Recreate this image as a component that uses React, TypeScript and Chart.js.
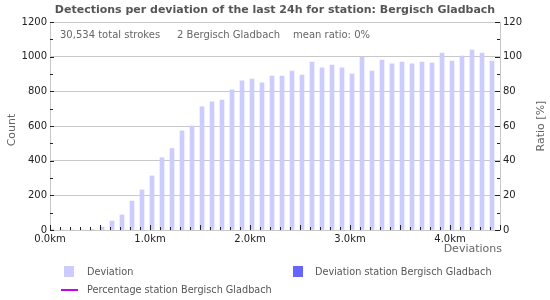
import React, { useEffect, useRef } from "react";
import { Chart, registerables } from "chart.js";

Chart.register(...registerables);

// ---- data ----
const titleText = "Detections per deviation of the last 24h for station: Bergisch Gladbach";
const stationName = "Bergisch Gladbach";
const totalStrokesLabel = "30,534";
const stationStrokes = 2;
const meanRatio = 0;

const deviationsKm = [
  0.0, 0.1, 0.2, 0.3, 0.4, 0.5, 0.6, 0.7, 0.8, 0.9,
  1.0, 1.1, 1.2, 1.3, 1.4, 1.5, 1.6, 1.7, 1.8, 1.9,
  2.0, 2.1, 2.2, 2.3, 2.4, 2.5, 2.6, 2.7, 2.8, 2.9,
  3.0, 3.1, 3.2, 3.3, 3.4, 3.5, 3.6, 3.7, 3.8, 3.9,
  4.0, 4.1, 4.2, 4.3, 4.4,
];
const deviationCounts = [
  5, 0, 0, 0, 4, 17, 52, 87, 167, 231,
  312, 417, 470, 572, 600, 711, 740, 750, 808, 860,
  871, 849, 888, 888, 917, 894, 969, 935, 952, 935,
  900, 996, 917, 981, 958, 969, 958, 969, 963, 1021,
  975, 1004, 1038, 1021, 975,
];
const stationCounts: number[] = [];
const stationPercentages: number[] = [];

const xTickValues = [0, 1, 2, 3, 4];
const xMin = 0;
const xMax = 4.5;
const countMax = 1200;
const countStep = 200;
const ratioMax = 120;
const ratioStep = 20;

const FONT = "DejaVu Sans";
const COLOR_DEV = "#ccccff";
const COLOR_STATION = "#6666ff";
const COLOR_PCT = "#cc00ee";
const GRID = "#c8c8c8";

const decorPlugin = {
  id: "decor",
  afterDraw(chart: any) {
    const ctx = chart.ctx as CanvasRenderingContext2D;
    const { left, right, bottom } = chart.chartArea;
    const xs = chart.scales.x;
    const ys = chart.scales.y;
    const yr = chart.scales.y1;
    ctx.save();

    // inner tick marks
    ctx.strokeStyle = "#222";
    ctx.lineWidth = 1;
    ctx.beginPath();
    for (let i = 0; i <= Math.round(xMax * 10); i++) {
      const px = Math.round(xs.getPixelForValue(i / 10)) + 0.5;
      const len = i % 5 === 0 ? 5 : 3;
      ctx.moveTo(px, bottom);
      ctx.lineTo(px, bottom - len);
    }
    for (let i = 0; i <= countMax / (countStep / 2); i++) {
      const py = Math.round(ys.getPixelForValue(i * countStep / 2)) + 0.5;
      const len = i % 2 === 0 ? 4 : 3;
      ctx.moveTo(left, py);
      ctx.lineTo(left + len, py);
    }
    for (let i = 0; i <= ratioMax / (ratioStep / 2); i++) {
      const py = Math.round(yr.getPixelForValue(i * ratioStep / 2)) + 0.5;
      const len = i % 2 === 0 ? 5 : 3;
      ctx.moveTo(right, py);
      ctx.lineTo(right - len, py);
    }
    ctx.stroke();

    // title
    ctx.fillStyle = "#555";
    ctx.font = `bold 11px "${FONT}"`;
    ctx.textAlign = "center";
    ctx.textBaseline = "middle";
    ctx.fillText(titleText, 275, 10);

    // info line
    ctx.fillStyle = "#666";
    ctx.font = `10px "${FONT}"`;
    ctx.textAlign = "left";
    ctx.fillText(`${totalStrokesLabel} total strokes`, 60, 35);
    ctx.fillText(`${stationStrokes} ${stationName}`, 177, 35);
    ctx.fillText(`mean ratio: ${meanRatio}%`, 293, 35);

    // axis titles
    ctx.font = `11px "${FONT}"`;
    ctx.fillStyle = "#666";
    ctx.textAlign = "right";
    ctx.fillText("Deviations", 502, 249);
    ctx.textAlign = "center";
    ctx.save();
    ctx.translate(12, 130);
    ctx.rotate(-Math.PI / 2);
    ctx.fillText("Count", 0, 0);
    ctx.restore();
    ctx.save();
    ctx.translate(541, 126);
    ctx.rotate(-Math.PI / 2);
    ctx.fillText("Ratio [%]", 0, 0);
    ctx.restore();

    // legend
    ctx.font = `9.7px "${FONT}"`;
    ctx.textAlign = "left";
    ctx.fillStyle = COLOR_DEV;
    ctx.fillRect(64, 266, 10, 11);
    ctx.fillStyle = COLOR_STATION;
    ctx.fillRect(293, 266, 10, 11);
    ctx.strokeStyle = COLOR_PCT;
    ctx.lineWidth = 2;
    ctx.beginPath();
    ctx.moveTo(61, 290);
    ctx.lineTo(78, 290);
    ctx.stroke();
    ctx.fillStyle = "#555";
    ctx.fillText("Deviation", 87, 272);
    ctx.fillText(`Deviation station ${stationName}`, 315, 272);
    ctx.fillText(`Percentage station ${stationName}`, 87, 290);

    ctx.restore();
  },
};

export default function App() {
  const ref = useRef<HTMLCanvasElement>(null);

  useEffect(() => {
    if (!ref.current) return;
    Chart.defaults.font.family = FONT;
    const chart = new Chart(ref.current, {
      type: "bar",
      data: {
        datasets: [
          {
            type: "bar",
            label: `Deviation station ${stationName}`,
            data: stationCounts.map((c, i) => ({ x: deviationsKm[i], y: c })),
            backgroundColor: COLOR_STATION,
            barThickness: 4,
            yAxisID: "y",
          },
          {
            type: "bar",
            label: "Deviation",
            data: deviationCounts.map((c, i) => ({ x: deviationsKm[i], y: c })),
            backgroundColor: COLOR_DEV,
            barThickness: 4,
            yAxisID: "y",
          },
          {
            type: "line",
            label: `Percentage station ${stationName}`,
            data: stationPercentages.map((p, i) => ({ x: deviationsKm[i], y: p })),
            borderColor: COLOR_PCT,
            borderWidth: 2,
            pointRadius: 0,
            yAxisID: "y1",
          },
        ],
      } as any,
      options: {
        responsive: false,
        animation: false,
        devicePixelRatio: 1,
        layout: { padding: { top: 22, left: 0, right: 0, bottom: 0 } },
        plugins: {
          legend: { display: false },
          title: { display: false },
          tooltip: { enabled: false },
        },
        scales: {
          x: {
            type: "linear",
            min: xMin,
            max: xMax,
            offset: false,
            grid: { display: false, offset: false, drawTicks: false },
            border: { display: true, color: GRID },
            afterBuildTicks: (axis: any) => {
              axis.ticks = xTickValues.map((v) => ({ value: v }));
            },
            afterFit: (axis: any) => {
              axis.height = 70;
            },
            ticks: {
              padding: 3,
              color: "#222",
              font: { size: 10, family: FONT },
              maxRotation: 0,
              autoSkip: false,
              callback: (v: any) => `${Number(v).toFixed(1)}km`,
            },
          },
          y: {
            type: "linear",
            position: "left",
            min: 0,
            max: countMax,
            grid: { color: GRID, drawTicks: false },
            border: { display: true, color: GRID },
            afterFit: (axis: any) => {
              axis.width = 50;
            },
            ticks: {
              stepSize: countStep,
              padding: 3,
              color: "#222",
              font: { size: 10, family: FONT },
              callback: (v: any) => String(v),
            },
          },
          y1: {
            type: "linear",
            position: "right",
            min: 0,
            max: ratioMax,
            grid: { drawOnChartArea: false, drawTicks: false },
            border: { display: true, color: GRID },
            afterFit: (axis: any) => {
              axis.width = 50;
            },
            ticks: {
              stepSize: ratioStep,
              padding: 3,
              color: "#222",
              font: { size: 10, family: FONT },
              callback: (v: any) => String(v),
            },
          },
        },
      } as any,
      plugins: [decorPlugin],
    });
    return () => chart.destroy();
  }, []);

  return (
    <div style={{ position: "fixed", left: 0, top: 0, width: 550, height: 300, background: "#fff" }}>
      <canvas ref={ref} width={550} height={300} style={{ display: "block" }} />
    </div>
  );
}
